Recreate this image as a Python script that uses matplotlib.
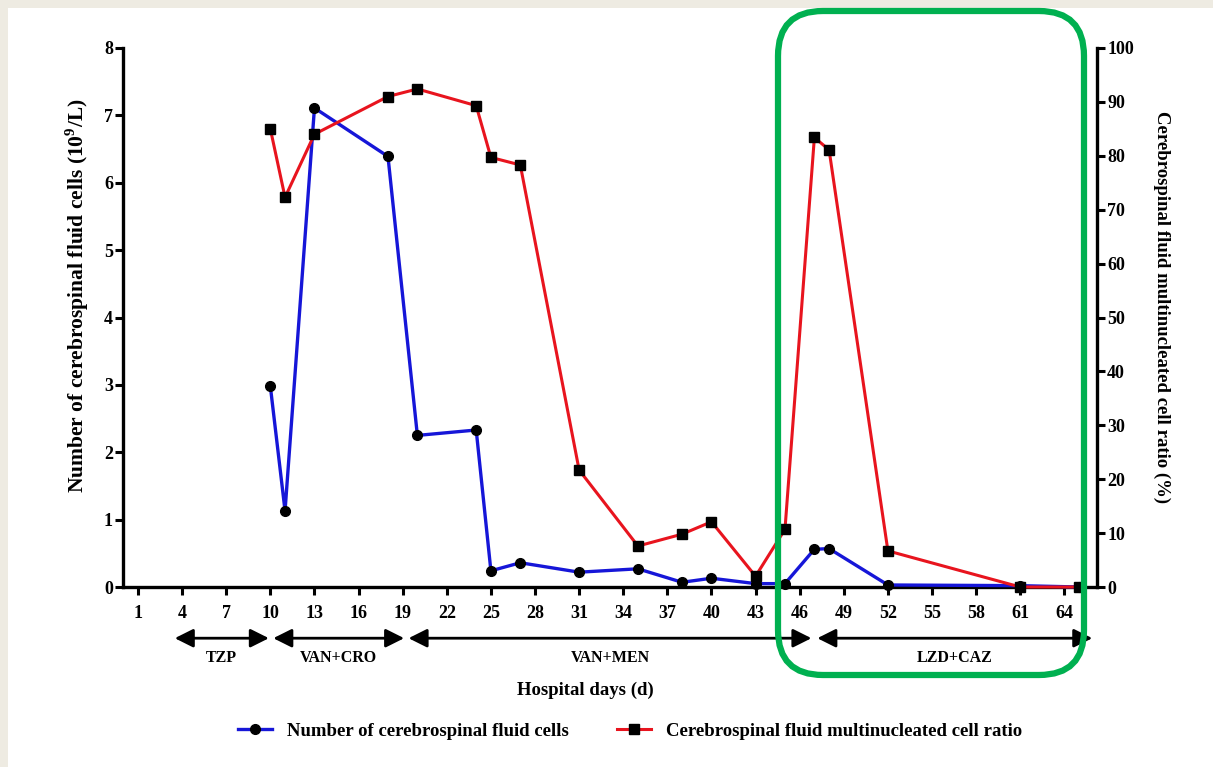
import matplotlib
matplotlib.use("Agg")
import matplotlib.pyplot as plt
from matplotlib.patches import FancyBboxPatch, Rectangle
from matplotlib.lines import Line2D
import matplotlib.transforms as mtransforms

# ---------------- data ----------------
days = [10, 11, 13, 18, 20, 24, 25, 27, 31, 35, 38, 40, 43, 45, 47, 48, 52, 61, 65]
cells = [2.98, 1.13, 7.11, 6.39, 2.25, 2.33, 0.24, 0.36, 0.22, 0.27, 0.07, 0.13,
         0.05, 0.05, 0.56, 0.57, 0.03, 0.02, 0.0]
ratio = [85.0, 72.3, 84.0, 91.0, 92.4, 89.3, 79.7, 78.3, 21.7, 7.6, 9.8, 12.1,
         2.0, 10.7, 83.4, 81.1, 6.7, 0.0, 0.0]
xticks = list(range(1, 65, 3))
regimen_names = ["TZP", "VAN+CRO", "VAN+MEN", "LZD+CAZ"]
regimen_start = [3.5, 10.2, 19.4, 47.2]
regimen_end = [9.9, 19.1, 46.8, 65.9]

left_label = "Number of cerebrospinal fluid cells (10$^{\\mathbf{9}}$/L)"
right_label = "Cerebrospinal fluid multinucleated cell ratio (%)"
series_names = ["Number of cerebrospinal fluid cells",
                "Cerebrospinal fluid multinucleated cell ratio"]

plt.rcParams['font.family'] = ['Liberation Serif', 'DejaVu Serif']
plt.rcParams['font.weight'] = 'bold'
plt.rcParams['mathtext.fontset'] = 'custom'
plt.rcParams['mathtext.rm'] = 'Liberation Serif:bold'
plt.rcParams['mathtext.bf'] = 'Liberation Serif:bold'

W, H = 1213, 767
fig = plt.figure(figsize=(W / 100, H / 100), dpi=100)
fig.patch.set_facecolor('#eeebe2')
fig.patches.append(Rectangle((8 / 100, 0), (W - 8) / 100, (H - 8) / 100,
                             transform=fig.dpi_scale_trans, facecolor='white',
                             edgecolor='none', zorder=-10))

ax_l, ax_r = 123.3, 1096.7
ax_t, ax_b = 48, 587
ax = fig.add_axes([ax_l / W, 1 - ax_b / H, (ax_r - ax_l) / W, (ax_b - ax_t) / H])
ax.set_facecolor('none')
ax2 = ax.twinx()

blue = '#1616d8'
red = '#e8141e'
ax.plot(days, cells, color=blue, lw=2.4, marker='o', ms=7, mfc='black',
        mec='black', zorder=3, clip_on=False)
ax2.plot(days, ratio, color=red, lw=2.2, marker='s', ms=7.5, mfc='black',
         mec='black', zorder=3, clip_on=False)

ax.set_xlim(0, 66.2)
ax.set_ylim(0, 8)
ax2.set_ylim(0, 100)
ax.set_xticks(xticks)
ax.set_yticks(range(0, 9))
ax2.set_yticks(range(0, 101, 10))

for a in (ax, ax2):
    a.spines['top'].set_visible(False)
    for s in a.spines.values():
        s.set_linewidth(2.4)
    a.tick_params(width=2.2, length=6, labelsize=13, direction='out')
ax.spines['right'].set_visible(False)
ax2.spines['left'].set_visible(False)
ax2.spines['bottom'].set_visible(False)
ax.tick_params(axis='x', pad=7)
ax.tick_params(axis='y', pad=1.5)
ax2.tick_params(axis='y', pad=1.5)

ax.set_ylabel(left_label, fontsize=15.5, fontweight='bold')
ax.yaxis.set_label_coords((91 - ax_l) / (ax_r - ax_l), 0.54)
ax2.set_ylabel(right_label, fontsize=13.5, fontweight='bold', rotation=270)
ax2.yaxis.set_label_coords((1170 - ax_l) / (ax_r - ax_l), 0.52)

# regimen arrows
trans = mtransforms.blended_transform_factory(ax.transData, ax.transAxes)
for name, s, e in zip(regimen_names, regimen_start, regimen_end):
    ax.annotate('', xy=(e, -0.095), xytext=(s, -0.095), xycoords=trans,
                textcoords=trans, annotation_clip=False,
                arrowprops=dict(arrowstyle='<|-|>', mutation_scale=28, lw=2,
                                color='black', shrinkA=0, shrinkB=0))
    ax.text((s + e) / 2, -0.132, name, transform=trans, ha='center',
            va='center', fontsize=11.5, fontweight='bold')

fig.text(585 / W, 1 - 690 / H, "Hospital days (d)", ha='center', va='center',
         fontsize=13.5, fontweight='bold')

handles = [Line2D([], [], color=blue, lw=2.4, marker='o', ms=7, mfc='black', mec='black'),
           Line2D([], [], color=red, lw=2.2, marker='s', ms=7.5, mfc='black', mec='black')]
fig.legend(handles, series_names, loc='center', bbox_to_anchor=(630 / W, 1 - 731 / H),
           ncol=2, frameon=False, handlelength=1.8, columnspacing=2.6,
           prop={'weight': 'bold', 'size': 13.5})

box = FancyBboxPatch((778 / 100, (H - 675) / 100), (1084 - 778) / 100, (675 - 11) / 100,
                     boxstyle='round,pad=0,rounding_size=0.45',
                     transform=fig.dpi_scale_trans, fill=False,
                     edgecolor='#00b050', lw=4.5, zorder=20)
fig.patches.append(box)

fig.savefig('out.png', dpi=100, facecolor=fig.get_facecolor())
